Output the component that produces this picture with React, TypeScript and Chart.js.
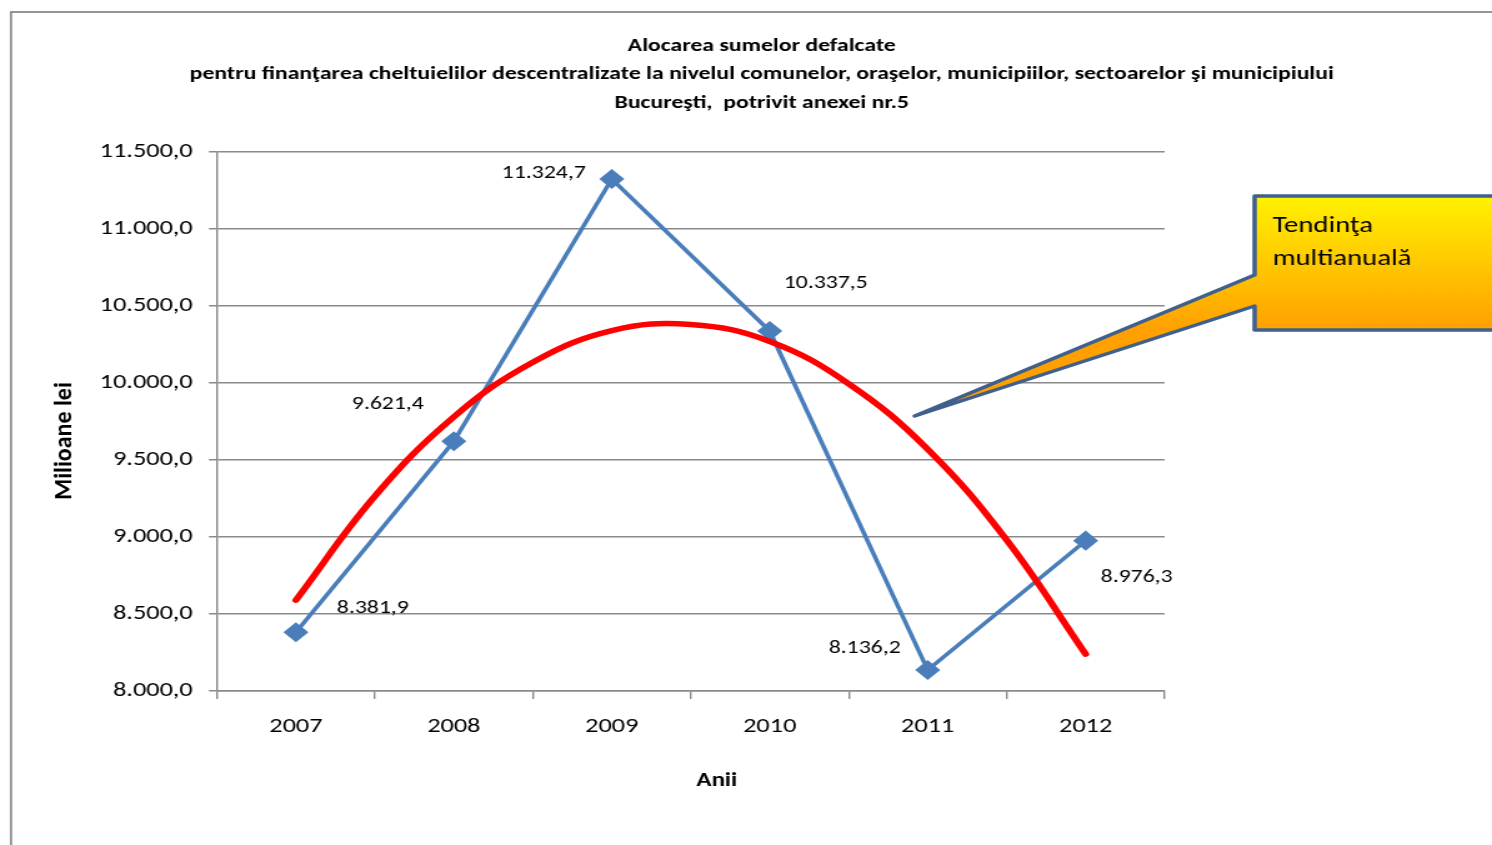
import React, { useEffect, useRef } from 'react';
import { Chart, registerables } from 'chart.js';

Chart.register(...registerables);

const years = ['2007', '2008', '2009', '2010', '2011', '2012'];
const allocations = [8381.9, 9621.4, 11324.7, 10337.5, 8136.2, 8976.3];
const trendPositions = [0, 0.5, 1, 1.5, 2, 2.5, 3, 3.5, 4, 4.5, 5];
const trendValues = [8590, 9265, 9780, 10135, 10340, 10380, 10270, 9995, 9570, 8980, 8240];
const yMin = 8000;
const yMax = 11500;
const yStep = 500;
const titleLines = [
  'Alocarea sumelor defalcate',
  'pentru finanţarea cheltuielilor descentralizate la nivelul comunelor, oraşelor, municipiilor, sectoarelor şi municipiului',
  'Bucureşti,  potrivit anexei nr.5',
];
const yTitle = 'Milioane lei';
const xTitle = 'Anii';
const calloutLines = ['Tendinţa', 'multianuală'];
// label offsets in screen pixels (dx, dy) from each marker
const labelOffsets = [
  [77, -24],
  [-66, -37],
  [-68, -6],
  [56, -48],
  [-63, -22],
  [51, 37],
];

const PAGE_W = 1492;
const PAGE_H = 845;
const SX = 1.25; // horizontal stretch of the reference rendering
const W = Math.round(PAGE_W / SX);
const sx = (x: number) => x / SX;

const FONT = 'Carlito, Calibri, Lato, "Liberation Sans", sans-serif';
const GRID = '#8a8a8a';
const BLUE = '#4A7EBB';

const fmt = (v: number) => {
  const [i, d] = v.toFixed(1).split('.');
  return i.replace(/\B(?=(\d{3})+(?!\d))/g, '.') + ',' + d;
};

const decorPlugin = {
  id: 'decor',
  beforeDraw(chart: any) {
    const ctx = chart.ctx;
    ctx.save();
    ctx.fillStyle = '#ffffff';
    ctx.fillRect(0, 0, chart.width, chart.height);
    ctx.strokeStyle = GRID;
    ctx.lineWidth = 1.8;
    ctx.strokeRect(sx(11), 12, chart.width + 40, chart.height + 40);
    // title
    ctx.fillStyle = '#000';
    ctx.font = `bold 19px ${FONT}`;
    ctx.textAlign = 'center';
    ctx.textBaseline = 'middle';
    titleLines.forEach((t, i) => ctx.fillText(t, sx(762), 46 + i * 28.5));
    // axis titles
    ctx.font = `bold 20px ${FONT}`;
    ctx.fillText(xTitle, sx(717), 781);
    ctx.translate(sx(65), 441);
    ctx.scale(1 / SX, 1);
    ctx.rotate(-Math.PI / 2);
    ctx.font = `bold 24px ${FONT}`;
    ctx.fillText(yTitle, 0, 0);
    ctx.restore();
  },
  afterDraw(chart: any) {
    const ctx = chart.ctx;
    ctx.save();
    // data labels
    const meta = chart.getDatasetMeta(1);
    ctx.fillStyle = '#000';
    ctx.font = `19px ${FONT}`;
    ctx.textAlign = 'center';
    ctx.textBaseline = 'middle';
    meta.data.forEach((p: any, i: number) => {
      const [dx, dy] = labelOffsets[i];
      ctx.fillText(fmt(allocations[i]), p.x + sx(dx), p.y + dy);
    });
    // callout
    const L = sx(1255), T = 196, R = W + 20, B = 330;
    const grad = ctx.createLinearGradient(0, T, 0, B);
    grad.addColorStop(0, '#FFF200');
    grad.addColorStop(1, '#FFA000');
    ctx.beginPath();
    ctx.moveTo(L, T);
    ctx.lineTo(R, T);
    ctx.lineTo(R, B);
    ctx.lineTo(L, B);
    ctx.lineTo(L, 306);
    ctx.lineTo(sx(915), 416);
    ctx.lineTo(L, 275);
    ctx.closePath();
    ctx.fillStyle = grad;
    ctx.fill();
    ctx.strokeStyle = '#3F5F8C';
    ctx.lineWidth = 3.5;
    ctx.lineJoin = 'round';
    ctx.stroke();
    ctx.fillStyle = '#000';
    ctx.font = `23px ${FONT}`;
    ctx.textAlign = 'left';
    ctx.textBaseline = 'middle';
    calloutLines.forEach((t, i) => ctx.fillText(t, sx(1273), 226 + i * 33));
    ctx.restore();
  },
};

export default function App() {
  const ref = useRef<HTMLCanvasElement>(null);
  useEffect(() => {
    if (!ref.current) return;
    const chart = new Chart(ref.current, {
      type: 'line',
      data: {
        labels: years,
        datasets: [
          {
            label: 'Tendinţa',
            data: trendPositions.map((x, i) => ({ x, y: trendValues[i] })),
            xAxisID: 'x2',
            borderColor: '#FF0000',
            borderWidth: 5.6,
            borderCapStyle: 'round',
            tension: 0.4,
            pointRadius: 0,
            order: 0,
          } as any,
          {
            label: 'Alocare',
            data: allocations,
            xAxisID: 'x',
            borderColor: BLUE,
            backgroundColor: BLUE,
            borderWidth: 3.6,
            tension: 0,
            pointStyle: 'rectRot',
            pointRadius: 7.5,
            pointBackgroundColor: BLUE,
            pointBorderColor: BLUE,
            order: 1,
          } as any,
        ],
      },
      options: {
        responsive: false,
        animation: false,
        layout: { padding: { top: 152, left: 0, right: W - sx(1165), bottom: 0 } },
        plugins: { legend: { display: false }, tooltip: { enabled: false }, title: { display: false } },
        scales: {
          x: {
            type: 'category',
            offset: true,
            grid: { offset: true, drawOnChartArea: false, drawTicks: true, tickLength: 8, color: GRID, lineWidth: 1.4 },
            border: { color: GRID, width: 1.5 },
            ticks: { color: '#000', font: { family: FONT, size: 21 }, padding: 15 },
            afterFit: (s: any) => { s.height = PAGE_H - 691; },
          },
          x2: {
            type: 'linear',
            display: false,
            min: -0.5,
            max: 5.5,
          },
          y: {
            min: yMin,
            max: yMax,
            grid: { color: GRID, lineWidth: 1.5, tickLength: 6.4, drawTicks: true },
            border: { color: GRID, width: 1.4 },
            ticks: {
              stepSize: yStep,
              color: '#000',
              padding: 13,
              font: { family: FONT, size: 21 },
              callback: (v: any) => fmt(Number(v)),
            },
            afterFit: (s: any) => { s.width = sx(217); },
          },
        },
      },
      plugins: [decorPlugin],
    } as any);
    return () => chart.destroy();
  }, []);
  return (
    <div style={{ position: 'fixed', left: 0, top: 0, width: PAGE_W, height: PAGE_H, overflow: 'hidden', background: '#fff' }}>
      <canvas
        ref={ref}
        width={W}
        height={PAGE_H}
        style={{ width: W, height: PAGE_H, display: 'block', transform: `scaleX(${PAGE_W / W})`, transformOrigin: '0 0' }}
      />
    </div>
  );
}
